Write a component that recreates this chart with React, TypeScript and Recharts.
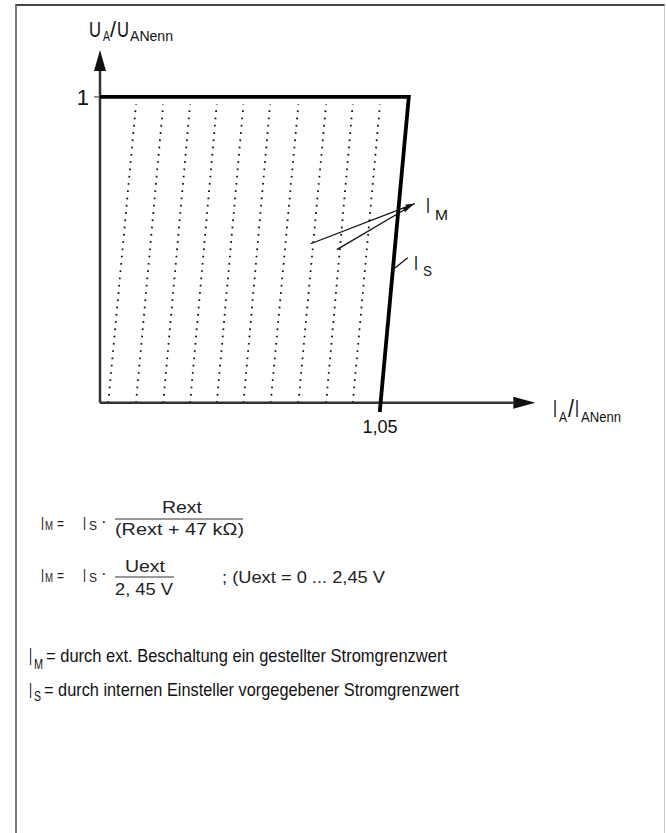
import React from "react";
import { LineChart, Line, XAxis, YAxis } from "recharts";

const FONT = "'Liberation Sans', Arial, Helvetica, sans-serif";
const INK = "#111";

// Axis ticks
const xTicks = [1.05];
const xTickLabels = ["1,05"];
const yTicks = [1];

// Dotted hatch lines (I_A/I_ANenn at the foot on the axis and at the top under U = 1)
const hatchBottomX = [0.031, 0.135, 0.237, 0.338, 0.438, 0.538, 0.64, 0.744, 0.848, 0.948];
const hatchTopX = [0.135, 0.237, 0.338, 0.438, 0.538, 0.638, 0.744, 0.848, 0.948, 1.05];
const hatchTopY = 0.976;

// Limit characteristic: U = 1 up to the corner, then the steep current limit I_S down to 1,05
const limitX = [0, 1.158, 1.049];
const limitY = [1, 1, -0.03];

// I_M pointer arrows and I_S pointer
const imArrowAX = [0.79, 1.18];
const imArrowAY = [0.52, 0.651];
const imArrowBX = [0.888, 1.169];
const imArrowBY = [0.501, 0.645];
const isPointerX = [1.098, 1.154];
const isPointerY = [0.435, 0.474];

// Axis lines (end where the arrow heads start)
const xAxisX = [0, 1.55];
const xAxisY = [0, 0];
const yAxisX = [0, 0];
const yAxisY = [0, 1.085];

const zip = (xs: number[], ys: number[]) => xs.map((x, i) => ({ x, y: ys[i] }));

const hatchLines = hatchBottomX.map((bx, i) => [
  { x: bx, y: 0 },
  { x: hatchTopX[i], y: hatchTopY },
]);

// arrow head drawn at the last point of a two-point line
const arrowDot =
  (len: number, half: number, angle: number, ahead: number) => (props: any) => {
    const { cx, cy, index } = props;
    if (index !== 1 || cx == null) return <g key={`n${index}`} />;
    return (
      <polygon
        key={`a${index}`}
        points={`${ahead},0 ${ahead - len},${-half} ${ahead - len},${half}`}
        transform={`translate(${cx},${cy}) rotate(${angle})`}
        fill={INK}
      />
    );
  };

function XTick(props: any) {
  const { x, index } = props;
  return (
    <text x={x} y={433} textAnchor="middle" fontSize={18} fontFamily={FONT} fill={INK}>
      {xTickLabels[index]}
    </text>
  );
}

function YTick(props: any) {
  const { y } = props;
  return (
    <text x={89} y={y + 8} textAnchor="end" fontSize={22} fontFamily={FONT} fill={INK}>
      1
    </text>
  );
}

interface TProps {
  x: number;
  y: number;
  size: number;
  len?: number;
  children: React.ReactNode;
  color?: string;
}

function T({ x, y, size, len, children, color = INK }: TProps) {
  return (
    <text
      x={x}
      y={y}
      fontSize={size}
      fontFamily={FONT}
      fill={color}
      textLength={len}
      lengthAdjust={len ? "spacingAndGlyphs" : undefined}
    >
      {children}
    </text>
  );
}

export default function App() {
  return (
    <div
      style={{
        position: "absolute",
        left: 0,
        top: 0,
        width: 666,
        height: 833,
        background: "#fff",
        overflow: "hidden",
      }}
    >
      {/* page frame */}
      <div
        style={{
          position: "absolute",
          left: 15,
          top: 4,
          width: 647,
          height: 850,
          borderLeft: "2px solid #7a7a7a",
          borderTop: "2px solid #444",
          borderRight: "1px solid #c8c8c8",
        }}
      />

      <div style={{ position: "absolute", left: 0, top: 0 }}>
        <LineChart
          width={666}
          height={450}
          margin={{ top: 48, right: 126, bottom: 8, left: 80 }}
        >
          <XAxis
            type="number"
            dataKey="x"
            domain={[0, 1.65]}
            ticks={xTicks}
            tick={<XTick />}
            axisLine={false}
            tickLine={false}
            height={30}
            interval={0}
          />
          <YAxis
            type="number"
            dataKey="y"
            domain={[-0.03, 1.16]}
            ticks={yTicks}
            tick={<YTick />}
            axisLine={false}
            tickLine={{ stroke: "#333", strokeWidth: 1 }}
            tickSize={6}
            width={20}
            interval={0}
          />

          {hatchLines.map((d, i) => (
            <Line
              key={`h${i}`}
              data={d}
              dataKey="y"
              stroke="#111"
              strokeWidth={1.8}
              strokeDasharray="1.7 5.6"
              dot={false}
              activeDot={false}
              isAnimationActive={false}
            />
          ))}

          <Line
            data={zip(xAxisX, xAxisY)}
            dataKey="y"
            stroke="#333"
            strokeWidth={2.5}
            dot={arrowDot(22, 6, 0, 22)}
            activeDot={false}
            isAnimationActive={false}
          />
          <Line
            data={zip(yAxisX, yAxisY)}
            dataKey="y"
            stroke="#333"
            strokeWidth={2.5}
            dot={arrowDot(21, 6, -90, 21)}
            activeDot={false}
            isAnimationActive={false}
          />

          <Line
            data={zip(limitX, limitY)}
            dataKey="y"
            stroke="#000"
            strokeWidth={3.8}
            strokeLinejoin="miter"
            dot={false}
            activeDot={false}
            isAnimationActive={false}
          />

          <Line
            data={zip(imArrowAX, imArrowAY)}
            dataKey="y"
            stroke="#111"
            strokeWidth={1.3}
            dot={arrowDot(9, 2.5, -21, 0)}
            activeDot={false}
            isAnimationActive={false}
          />
          <Line
            data={zip(imArrowBX, imArrowBY)}
            dataKey="y"
            stroke="#111"
            strokeWidth={1.3}
            dot={arrowDot(9, 2.5, -30, 0)}
            activeDot={false}
            isAnimationActive={false}
          />
          <Line
            data={zip(isPointerX, isPointerY)}
            dataKey="y"
            stroke="#111"
            strokeWidth={1.3}
            dot={false}
            activeDot={false}
            isAnimationActive={false}
          />
        </LineChart>
      </div>

      <svg
        width={666}
        height={833}
        style={{ position: "absolute", left: 0, top: 0, pointerEvents: "none" }}
      >
        {/* axis titles */}
        <T x={89} y={37} size={22} len={12}>U</T>
        <T x={103} y={41} size={15} len={7}>A</T>
        <T x={110} y={37} size={22} len={6}>/</T>
        <T x={117} y={37} size={22} len={12}>U</T>
        <T x={130} y={41} size={15} len={43}>ANenn</T>

        <T x={553} y={417} size={23} len={4}>I</T>
        <T x={559} y={422} size={15} len={8}>A</T>
        <T x={568} y={417} size={23} len={6}>/</T>
        <T x={575} y={417} size={23} len={4}>I</T>
        <T x={581} y={422} size={15} len={40}>ANenn</T>

        {/* curve labels */}
        <T x={426} y={213} size={22} len={4}>I</T>
        <T x={435} y={220} size={14} len={13}>M</T>
        <T x={414} y={270} size={20} len={4}>I</T>
        <T x={423} y={276} size={15} len={9}>S</T>

        {/* formula 1 */}
        <T x={41} y={530} size={18} len={3} color="#222">I</T>
        <T x={45} y={530} size={12} len={8} color="#222">M</T>
        <T x={57} y={529} size={17} len={7} color="#222">=</T>
        <T x={83} y={530} size={18} len={3} color="#222">I</T>
        <T x={89} y={530} size={12} len={8} color="#222">S</T>
        <T x={101} y={527} size={17} color="#222">·</T>
        <T x={162} y={513} size={17} len={40} color="#222">Rext</T>
        <line x1={115} y1={519} x2={243} y2={519} stroke="#333" strokeWidth={1} />
        <T x={115} y={535} size={17} len={129} color="#222">(Rext + 47 kΩ)</T>

        {/* formula 2 */}
        <T x={41} y={582} size={18} len={3} color="#222">I</T>
        <T x={45} y={582} size={12} len={8} color="#222">M</T>
        <T x={57} y={581} size={17} len={7} color="#222">=</T>
        <T x={83} y={582} size={18} len={3} color="#222">I</T>
        <T x={89} y={582} size={12} len={8} color="#222">S</T>
        <T x={101} y={579} size={17} color="#222">·</T>
        <T x={125} y={572} size={17} len={40} color="#222">Uext</T>
        <line x1={115} y1={577} x2={174} y2={577} stroke="#333" strokeWidth={1} />
        <T x={115} y={595} size={17} len={58} color="#222">2, 45 V</T>
        <T x={222} y={583} size={17} len={163} color="#222">; (Uext = 0 ... 2,45 V</T>

        {/* legend */}
        <T x={29} y={665} size={24} len={3}>I</T>
        <T x={34} y={669} size={14} len={9}>M</T>
        <T x={46} y={662} size={19} len={401}>= durch ext. Beschaltung ein gestellter Stromgrenzwert</T>
        <T x={29} y={698} size={22} len={3}>I</T>
        <T x={34} y={701} size={14} len={7}>S</T>
        <T x={44} y={696} size={19} len={415}>= durch internen Einsteller vorgegebener Stromgrenzwert</T>
      </svg>
    </div>
  );
}
